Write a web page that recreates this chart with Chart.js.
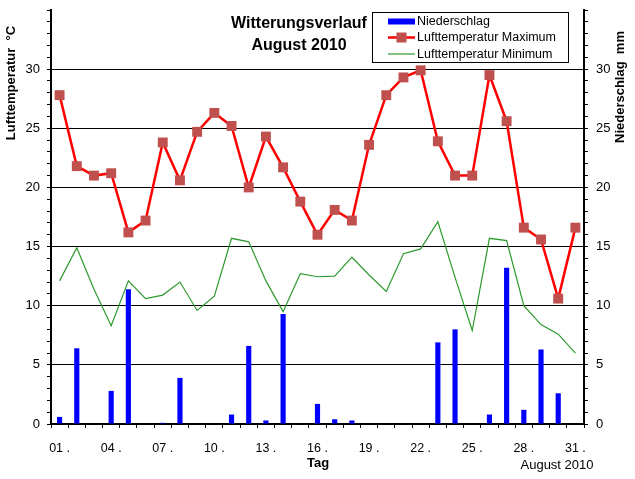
<!DOCTYPE html>
<html>
<head>
<meta charset="utf-8">
<script src="https://cdn.jsdelivr.net/npm/chart.js@4/dist/chart.umd.min.js"></script>
<style>
    html, body { margin: 0; padding: 0; background: #fff; }
    #wetter { display: block; }
</style>
</head>
<body>
<canvas id="wetter" width="635" height="479"></canvas>
<script>
// Tage im August 2010
var days = ['01', '02', '03', '04', '05', '06', '07', '08', '09', '10',
            '11', '12', '13', '14', '15', '16', '17', '18', '19', '20',
            '21', '22', '23', '24', '25', '26', '27', '28', '29', '30', '31'];

// Niederschlag mm
var niederschlag = [0.6, 6.4, 0, 2.8, 11.4, 0, 0.1, 3.9, 0, 0,
                    0.8, 6.6, 0.3, 9.3, 0, 1.7, 0.4, 0.3, 0, 0,
                    0, 0, 6.9, 8.0, 0, 0.8, 13.2, 1.2, 6.3, 2.6, 0];

// Lufttemperatur Maximum °C
var tempMax = [27.8, 21.8, 21.0, 21.2, 16.2, 17.2, 23.8, 20.6, 24.7, 26.3,
               25.2, 20.0, 24.3, 21.7, 18.8, 16.0, 18.1, 17.2, 23.6, 27.8,
               29.3, 29.9, 23.9, 21.0, 21.0, 29.5, 25.6, 16.6, 15.6, 10.6, 16.6];

// Lufttemperatur Minimum °C
var tempMin = [12.1, 14.9, 11.4, 8.3, 12.1, 10.6, 10.9, 12.0, 9.6, 10.8,
               15.7, 15.4, 12.1, 9.5, 12.7, 12.45, 12.5, 14.1, 12.6, 11.2,
               14.4, 14.8, 17.1, 12.4, 7.9, 15.7, 15.5, 10.0, 8.4, 7.6, 6.0];

// Achsen
var yMax = 35;
var yLabelStep = 5;
var xLabelStep = 3;

var FONT = "'Liberation Sans', Arial, sans-serif";

Chart.defaults.color = '#000';
Chart.defaults.font.family = FONT;

function yTickLabel(value) {
    return (value % yLabelStep === 0 && value < yMax) ? value : '';
}

function gridColor(ctx) {
    if (!ctx.tick) return 'rgba(0,0,0,0)';
    var v = ctx.tick.value;
    return (v % yLabelStep === 0 && v > 0 && v < yMax) ? '#000' : 'rgba(0,0,0,0)';
}

function fitY(s) {
    s.width = 51;
    s.paddingTop = 0;
    s.paddingBottom = 0;
}

// Titel, Achsentitel und Legende selbst zeichnen
var beschriftung = {
    id: 'beschriftung',
    afterDraw: function(chart) {
        var ctx = chart.ctx;
        ctx.save();
        ctx.fillStyle = '#000';

        // Titel
        ctx.font = 'bold 16px ' + FONT;
        ctx.textAlign = 'center';
        ctx.textBaseline = 'alphabetic';
        ctx.fillText('Witterungsverlauf', 299, 28);
        ctx.fillText('August 2010', 299, 50);

        // Achsentitel
        ctx.font = 'bold 13px ' + FONT;
        ctx.textBaseline = 'middle';
        ctx.save();
        ctx.translate(11, 83);
        ctx.rotate(-Math.PI / 2);
        ctx.fillText('Lufttemperatur  \u00b0C', 0, 0);
        ctx.restore();
        ctx.save();
        ctx.translate(620, 87);
        ctx.rotate(-Math.PI / 2);
        ctx.fillText('Niederschlag  mm', 0, 0);
        ctx.restore();

        ctx.fillText('Tag', 318, 463);
        ctx.font = '13px ' + FONT;
        ctx.fillText('August 2010', 557, 465);

        // Legende
        ctx.fillStyle = '#fff';
        ctx.fillRect(372, 12, 196, 50);
        ctx.strokeStyle = '#000';
        ctx.lineWidth = 1;
        ctx.strokeRect(372.5, 12.5, 196, 50);

        var rows = [21.5, 37.5, 54];
        var legendOrder = [0, 1, 2];
        ctx.font = '12.5px ' + FONT;
        ctx.textAlign = 'left';
        legendOrder.forEach(function(i, n) {
            var ds = chart.data.datasets[i];
            var y = rows[n];
            if (ds.type === 'bar') {
                ctx.fillStyle = ds.backgroundColor;
                ctx.fillRect(388, y - 3, 27, 6);
            } else {
                ctx.strokeStyle = ds.borderColor;
                ctx.lineWidth = ds.borderWidth;
                ctx.beginPath();
                ctx.moveTo(388, y);
                ctx.lineTo(415, y);
                ctx.stroke();
                if (ds.pointRadius > 0) {
                    ctx.fillStyle = ds.pointBackgroundColor;
                    ctx.fillRect(396.5, y - 5, 10, 10);
                }
            }
            ctx.fillStyle = '#000';
            ctx.fillText(ds.label, 417, y + 0.5);
        });

        ctx.restore();
    }
};

new Chart(document.getElementById('wetter'), {
    type: 'bar',
    data: {
        labels: days,
        datasets: [{
            type: 'bar',
            label: 'Niederschlag',
            data: niederschlag,
            yAxisID: 'y1',
            backgroundColor: '#0000FF',
            barPercentage: 0.3,
            categoryPercentage: 1,
            order: 3
        }, {
            type: 'line',
            label: 'Lufttemperatur Maximum',
            data: tempMax,
            yAxisID: 'y',
            borderColor: '#FF0000',
            borderWidth: 2.5,
            tension: 0,
            pointStyle: 'rect',
            pointRadius: 7,
            pointBackgroundColor: '#C0504D',
            pointBorderColor: '#C0504D',
            pointBorderWidth: 0,
            order: 1
        }, {
            type: 'line',
            label: 'Lufttemperatur Minimum',
            data: tempMin,
            yAxisID: 'y',
            borderColor: '#2E9A2E',
            borderWidth: 1.2,
            tension: 0,
            pointRadius: 0,
            order: 2
        }]
    },
    options: {
        responsive: false,
        animation: false,
        devicePixelRatio: 1,
        layout: { padding: { top: 10, left: 0, right: 0, bottom: 0 } },
        plugins: {
            legend: { display: false },
            title: { display: false },
            tooltip: { enabled: false }
        },
        scales: {
            x: {
                offset: true,
                afterFit: function(s) { s.height = 55; },
                border: { color: '#000', width: 2 },
                grid: {
                    offset: true,
                    drawOnChartArea: false,
                    color: '#000',
                    tickLength: 4
                },
                ticks: {
                    autoSkip: false,
                    maxRotation: 0,
                    padding: 13,
                    font: { size: 12.5 },
                    callback: function(value, index) {
                        return index % xLabelStep === 0 ? days[index] + ' .' : '';
                    }
                }
            },
            y: {
                position: 'left',
                min: 0,
                max: yMax,
                afterFit: fitY,
                border: { color: '#000', width: 2 },
                grid: {
                    color: gridColor,
                    tickColor: '#000',
                    tickLength: 4
                },
                ticks: {
                    stepSize: 1,
                    autoSkip: false,
                    maxTicksLimit: 100,
                    padding: 7,
                    font: { size: 13 },
                    callback: yTickLabel
                }
            },
            y1: {
                position: 'right',
                min: 0,
                max: yMax,
                afterFit: fitY,
                border: { color: '#000', width: 2 },
                grid: {
                    drawOnChartArea: false,
                    tickColor: '#000',
                    tickLength: 4
                },
                ticks: {
                    stepSize: 1,
                    autoSkip: false,
                    maxTicksLimit: 100,
                    padding: 8,
                    font: { size: 13 },
                    callback: yTickLabel
                }
            }
        }
    },
    plugins: [beschriftung]
});
</script>
</body>
</html>
